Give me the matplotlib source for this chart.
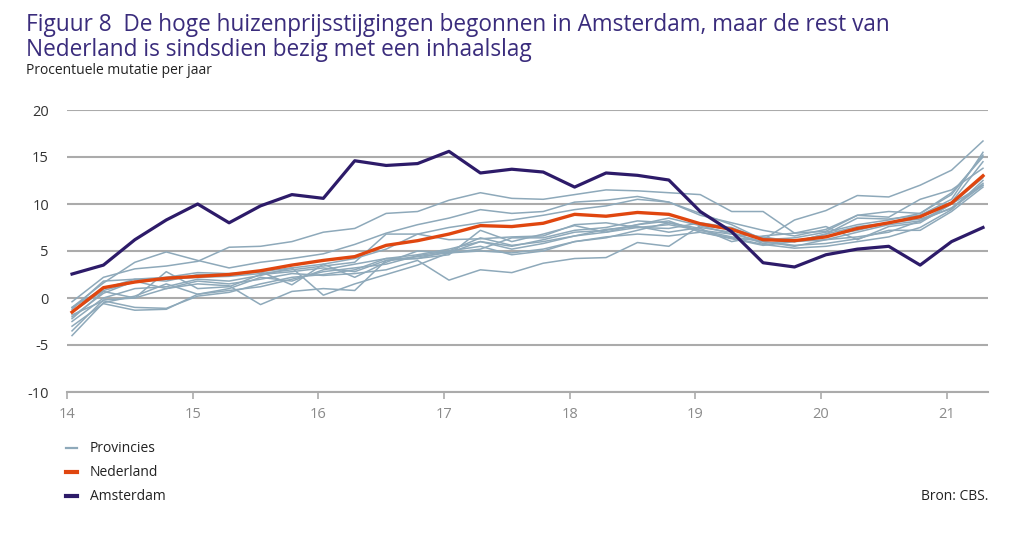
import numpy as np
import matplotlib.pyplot as plt
from matplotlib.ticker import FuncFormatter

plt.rcParams['font.family'] = ['Open Sans', 'DejaVu Sans']

# quarters 2014Q1 .. 2021Q2 (x in years, 14 = 2014)
quarters = 14.04 + 0.25 * np.arange(30)

amsterdam = [2.55, 3.5, 6.2, 8.3, 10.0, 8.0, 9.8, 11.0, 10.6, 14.6,
             14.1, 14.3, 15.6, 13.3, 13.7, 13.4, 11.8, 13.3, 13.05, 12.55,
             9.2, 7.05, 3.75, 3.3, 4.6, 5.2, 5.5, 3.5, 6.0, 7.5]

nederland = [-1.5, 1.1, 1.7, 2.1, 2.3, 2.5, 2.9, 3.5, 4.0, 4.4,
             5.6, 6.1, 6.8, 7.7, 7.6, 7.95, 8.9, 8.7, 9.1, 8.9,
             7.9, 7.3, 6.2, 6.1, 6.5, 7.4, 8.0, 8.65, 10.1, 13.0]

provincies = [
    [-0.4, 2.2, 3.1, 3.4, 3.9, 5.4, 5.5, 6.0, 7.0, 7.4, 9.0, 9.2, 10.4, 11.2, 10.6,
     10.5, 11.0, 11.5, 11.4, 11.2, 11.0, 9.2, 9.2, 6.9, 7.1, 8.8, 8.6, 10.5, 11.5, 13.8],
    [-1.0, 1.6, 3.8, 4.9, 4.0, 3.2, 3.8, 4.2, 4.7, 5.7, 6.9, 7.8, 8.5, 9.4, 9.0,
     9.2, 10.2, 10.4, 10.8, 10.2, 9.0, 7.8, 6.2, 8.3, 9.3, 10.9, 10.75, 12.0, 13.6, 16.7],
    [-1.2, 1.8, 2.0, 2.2, 2.7, 2.6, 2.8, 3.2, 3.6, 4.2, 5.2, 6.8, 7.5, 8.0, 8.3,
     8.8, 9.4, 9.8, 10.5, 10.2, 8.8, 8.0, 7.2, 6.6, 7.3, 8.8, 9.2, 9.0, 11.0, 15.2],
    [-1.5, 0.8, 1.7, 2.0, 2.2, 2.3, 2.6, 3.0, 3.4, 3.8, 6.8, 6.8, 6.2, 6.3, 6.5,
     6.6, 7.8, 8.0, 7.5, 7.8, 7.2, 6.8, 6.5, 6.0, 6.8, 7.6, 8.0, 8.8, 10.2, 14.5],
    [-2.0, 0.5, 1.8, 1.0, 1.5, 1.3, -0.7, 0.7, 1.0, 0.8, 4.0, 4.4, 4.8, 5.2, 6.4,
     6.4, 7.2, 7.5, 8.2, 8.0, 7.2, 6.5, 6.0, 5.5, 6.2, 7.0, 7.8, 8.2, 9.6, 12.2],
    [-2.5, 0.0, 1.0, 1.2, 2.0, 1.8, 2.4, 3.2, 0.3, 1.5, 2.5, 3.5, 4.8, 6.0, 5.2,
     5.8, 6.6, 7.3, 7.6, 7.0, 7.5, 7.0, 5.8, 6.1, 6.6, 7.2, 8.0, 8.4, 9.5, 12.0],
    [-3.5, -0.2, 0.0, 1.0, 1.8, 1.5, 2.0, 2.6, 2.4, 2.6, 3.0, 4.0, 1.9, 3.0, 2.7,
     3.7, 4.2, 4.3, 5.9, 5.5, 7.7, 6.8, 6.0, 5.6, 5.8, 6.3, 7.2, 7.2, 9.2, 11.8],
    [-4.0, -0.5, 0.2, 1.5, 0.4, 0.8, 1.2, 2.0, 2.8, 3.2, 3.6, 4.5, 5.0, 5.5, 4.6,
     5.0, 6.0, 6.5, 6.8, 6.6, 7.0, 6.4, 5.7, 5.3, 5.5, 6.0, 6.5, 7.5, 9.4, 12.5],
    [-3.0, -0.6, -1.3, -1.2, 0.4, 1.0, 2.2, 1.8, 3.0, 3.6, 4.2, 4.6, 5.2, 6.0, 5.5,
     6.2, 7.0, 7.2, 7.8, 8.2, 7.0, 6.3, 5.6, 6.0, 6.2, 6.5, 7.0, 8.2, 10.0, 12.0],
    [-1.8, -0.3, -1.0, -1.1, 0.2, 0.6, 1.5, 2.2, 2.5, 3.0, 4.2, 4.2, 4.6, 7.2, 6.0,
     6.8, 7.7, 7.0, 7.8, 8.5, 7.7, 7.3, 6.4, 6.0, 6.8, 8.5, 8.4, 8.8, 10.5, 15.5],
    [-2.2, 0.7, 0.0, 2.8, 1.0, 1.2, 2.5, 2.8, 3.2, 2.8, 4.0, 4.2, 5.0, 6.4, 5.6,
     6.0, 6.6, 7.0, 7.5, 7.4, 8.0, 7.5, 6.2, 6.4, 7.0, 7.8, 8.3, 9.0, 11.2, 15.0],
    [-1.0, 1.0, 2.0, 1.8, 2.5, 2.4, 2.8, 1.4, 3.6, 2.2, 3.8, 5.0, 4.8, 5.0, 4.8,
     5.2, 6.0, 6.4, 7.2, 8.0, 7.4, 6.0, 6.6, 6.9, 7.6, 6.2, 7.6, 8.0, 10.0, 12.8],
]

yticks = [-10, -5, 0, 5, 10, 15, 20]
xticks = [14, 15, 16, 17, 18, 19, 20, 21]

col_prov = '#8ea9ba'
col_ned = '#e0460f'
col_ams = '#2d1b69'
col_title = '#3a2c7c'
col_grid = '#ababab'

fig = plt.figure(figsize=(10.24, 5.48), dpi=100)
ax = fig.add_axes([67/1024, 1 - 392/548, (988 - 67)/1024, 282/548])

for p in provincies:
    ax.plot(quarters, p, color=col_prov, lw=1.1, zorder=2)
ax.plot(quarters, nederland, color=col_ned, lw=2.4, zorder=3)
ax.plot(quarters, amsterdam, color=col_ams, lw=2.3, zorder=4)

ax.set_xlim(14, 21.33)
ax.set_ylim(-10, 20)
ax.set_yticks(yticks)
ax.yaxis.set_major_formatter(FuncFormatter(lambda v, pos: '%d' % v))
ax.set_xticks(xticks)
ax.set_xticklabels([str(t) for t in xticks])
ax.yaxis.grid(True, color=col_grid, lw=1.5)
ax.set_axisbelow(True)
for s in ['top', 'right', 'left']:
    ax.spines[s].set_visible(False)
ax.spines['bottom'].set_color(col_grid)
ax.spines['bottom'].set_linewidth(1.5)
ax.tick_params(axis='y', length=0, pad=13, labelsize=10.5, labelcolor='#333333')
ax.tick_params(axis='x', length=5, width=1.2, color=col_grid, pad=6,
               labelsize=10.5, labelcolor='#8a8a8a')

fig.text(26/1024, 1 - 13/548,
         'Figuur 8  De hoge huizenprijsstijgingen begonnen in Amsterdam, maar de rest van\n'
         'Nederland is sindsdien bezig met een inhaalslag',
         color=col_title, fontsize=16.3, va='top', linespacing=1.07)
fig.text(26/1024, 1 - 71/548, 'Procentuele mutatie per jaar',
         color='#222222', fontsize=10, va='center')

# legend drawn by hand
leg = [('Provincies', col_prov, 1.6), ('Nederland', col_ned, 3.0), ('Amsterdam', col_ams, 3.0)]
for i, (lab, c, w) in enumerate(leg):
    yy = 1 - (448 + 24*i)/548
    fig.add_artist(plt.Line2D([66/1024, 77/1024], [yy, yy], color=c, lw=w))
    fig.text(90/1024, yy, lab, color='#222222', fontsize=10, va='center')

fig.text(988/1024, 1 - 496/548, 'Bron: CBS.', color='#222222', fontsize=10,
         va='center', ha='right')

fig.savefig('out.png', dpi=100)
